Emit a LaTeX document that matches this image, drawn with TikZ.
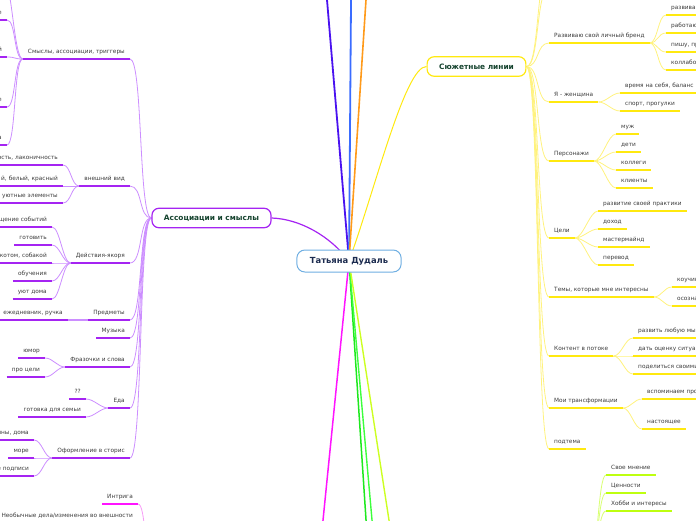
\documentclass[tikz,border=0pt]{standalone}
\usepackage{fontspec}
\setmainfont{DejaVu Sans}
\usetikzlibrary{backgrounds}
\definecolor{purp}{HTML}{A524F2}
\definecolor{purpl}{HTML}{CC8EFF}
\definecolor{yel}{HTML}{FFE90F}
\definecolor{yell}{HTML}{FFF27E}
\definecolor{ygr}{HTML}{BEFF10}
\definecolor{ygrl}{HTML}{D8FF72}
\definecolor{mag}{HTML}{FF14FF}
\definecolor{magl}{HTML}{F79AF7}
\definecolor{txt}{HTML}{3C3C3C}
\definecolor{dgreen}{HTML}{15432E}
\definecolor{navy}{HTML}{1C2B4F}
\definecolor{cblue}{HTML}{6EAEE2}
\definecolor{vio}{HTML}{4A12F0}
\definecolor{blu}{HTML}{3A6CFF}
\definecolor{ora}{HTML}{FF9A1A}
\definecolor{grn}{HTML}{1EE81E}
\definecolor{grn2}{HTML}{3CFF3C}
\definecolor{ygm}{HTML}{CCFF22}
\begin{document}
\begin{tikzpicture}[x=1pt,y=-1pt,
  every node/.style={font=\fontsize{5.8}{7}\selectfont, text=txt},
  tp/.style={inner xsep=5pt, inner ysep=3.8pt, text height=4.4pt, text depth=1.3pt},
  tpr/.style={tp, text width=70pt, align=right},
  tpl/.style={tp, text width=70pt, align=left},
  big/.style={draw, rounded corners=7pt, fill=white, line width=1.2pt, inner xsep=12pt, minimum height=19.5pt, font=\fontsize{7.4}{9}\selectfont\bfseries, text=dgreen},
  rootbox/.style={draw=cblue, rounded corners=8pt, fill=white, line width=1pt, inner xsep=13pt, minimum height=22pt, font=\fontsize{8.4}{10}\selectfont\bfseries, text=navy},
  ulp/.style={purp, line width=1.5pt},
  uly/.style={yel, line width=1.5pt},
  ulg/.style={ygr, line width=1.5pt},
  ulm/.style={mag, line width=1.5pt},
  cl/.style={purpl, line width=0.8pt, out=180, in=0, out distance=#1, in distance=#1},
  cr/.style={yell, line width=0.8pt, out=0, in=180, out distance=#1, in distance=#1},
  cg/.style={ygrl, line width=0.8pt, out=0, in=180, out distance=#1, in distance=#1},
  cm/.style={magl, line width=0.8pt, out=180, in=0, out distance=#1, in distance=#1}
]
\useasboundingbox (0,0) rectangle (696,520);
\clip (0,0) rectangle (696,520);

% main nodes
\node[rootbox] (root) at (349,261) {Татьяна Дудаль};
\node[big, draw=purp] (assoc) at (211.5,218) {Ассоциации и смыслы};
\node[big, draw=yel] (sj) at (476.5,66.5) {Сюжетные линии};

% off-page ends
\coordinate (vtop) at (318.6,-100);
\coordinate (btop) at (351.8,-100);
\coordinate (otop) at (372.5,-100);
\coordinate (mbot) at (313,620);
\coordinate (g1bot) at (372.6,620);
\coordinate (g2bot) at (380.9,620);
\coordinate (ybot) at (404.4,620);
\coordinate (smyup) at (3,-22);
\coordinate (sjup1) at (549,-12);
\coordinate (sjup2) at (549,-30);
\coordinate (magpar) at (152,560);
\coordinate (ygpar) at (590,560);

% left level 1
\node[tp, anchor=south east] (smy) at (130,59) {Смыслы, ассоциации, триггеры};
\node[tp, anchor=south east] (vid) at (130,186) {внешний вид};
\node[tp, anchor=south east] (dey) at (130,263) {Действия-якоря};
\node[tp, anchor=south east] (pre) at (130,320) {Предметы};
\node[tp, anchor=south east] (muz) at (130,338) {Музыка};
\node[tp, anchor=south east] (fra) at (130,367) {Фразочки и слова};
\node[tp, anchor=south east] (eda) at (130,408) {Еда};
\node[tp, anchor=south east] (ofo) at (130,458) {Оформление в сторис};

% left level 2
\node[tpr, anchor=south east] (s1) at (7,20) {е};
\node[tpr, anchor=south east] (s2) at (7,57) {й};
\node[tpr, anchor=south east] (s3) at (7,107) {е};
\node[tpr, anchor=south east] (s4) at (7,145) {а};
\node[tpr, anchor=south east] (v1) at (63,165) {ость, лаконичность};
\node[tpr, anchor=south east] (v2) at (63,186) {й, белый, красный};
\node[tpr, anchor=south east] (v3) at (63,203) {, уютные элементы};
\node[tpr, anchor=south east] (d1) at (52,227) {щение событий};
\node[tp, anchor=south east] (d2) at (52,245) {готовить};
\node[tpr, anchor=south east] (d3) at (52,263) {с котом, собакой};
\node[tp, anchor=south east] (d4) at (52,281) {обучения};
\node[tp, anchor=south east] (d5) at (52,299) {уют дома};
\node[tp, anchor=south east] (p1) at (68,320) {ежедневник, ручка};
\node[tp, anchor=south east] (f1) at (45,358) {юмор};
\node[tp, anchor=south east] (f2) at (45,377) {про цели};
\node[tp, anchor=south east] (e1) at (86,399) {??};
\node[tp, anchor=south east] (e2) at (86,417) {готовка для семьи};
\node[tpr, anchor=south east] (o1) at (34,440) {ины, дома};
\node[tp, anchor=south east] (o2) at (34,458) {море};
\node[tpr, anchor=south east] (o3) at (34,476) {е подписи};

% magenta
\node[tp, anchor=south east] (m1) at (138,504) {Интрига};
\node[tp, anchor=south east] (m2) at (138,523) {Необычные дела/изменения во внешности};

% right level 1
\node[tp, anchor=south west] (r1) at (549,43) {Развиваю свой личный бренд};
\node[tp, anchor=south west] (r2) at (549,102) {Я - женщина};
\node[tp, anchor=south west] (r3) at (549,161) {Персонажи};
\node[tp, anchor=south west] (r4) at (549,238) {Цели};
\node[tp, anchor=south west] (r5) at (549,297) {Темы, которые мне интересны};
\node[tp, anchor=south west] (r6) at (549,356) {Контент в потоке};
\node[tp, anchor=south west] (r7) at (549,408) {Мои трансформации};
\node[tp, anchor=south west] (r8) at (549,449) {подтема};

% right level 2
\node[tpl, anchor=south west] (r11) at (666,15) {развива};
\node[tpl, anchor=south west] (r12) at (666,33) {работаю};
\node[tpl, anchor=south west] (r13) at (666,52) {пишу, пр};
\node[tpl, anchor=south west] (r14) at (666,70) {коллабо};
\node[tp, anchor=south west] (r21) at (620,93) {время на себя, баланс};
\node[tp, anchor=south west] (r22) at (620,111) {спорт, прогулки};
\node[tp, anchor=south west] (r31) at (616,134) {муж};
\node[tp, anchor=south west] (r32) at (616,152) {дети};
\node[tp, anchor=south west] (r33) at (616,170) {коллеги};
\node[tp, anchor=south west] (r34) at (616,188) {клиенты};
\node[tp, anchor=south west] (r41) at (598,211) {развитие своей практики};
\node[tp, anchor=south west] (r42) at (598,229) {доход};
\node[tp, anchor=south west] (r43) at (598,247) {мастермайнд};
\node[tp, anchor=south west] (r44) at (598,265) {перевод};
\node[tpl, anchor=south west] (r51) at (672,287) {коучин};
\node[tpl, anchor=south west] (r52) at (672,306) {осознан};
\node[tpl, anchor=south west] (r61) at (633,338) {развить любую мысл};
\node[tpl, anchor=south west] (r62) at (633,356) {дать оценку ситуац};
\node[tpl, anchor=south west] (r63) at (633,374) {поделиться своими з};
\node[tpl, anchor=south west] (r71) at (642,399) {вспоминаем прош};
\node[tp, anchor=south west] (r72) at (642,429) {настоящее};

% yellow-green
\node[tp, anchor=south west] (g1) at (606,475) {Свое мнение};
\node[tp, anchor=south west] (g2) at (606,493) {Ценности};
\node[tp, anchor=south west] (g3) at (606,511) {Хобби и интересы};

% underlines
\foreach \n in {smy,vid,dey,pre,muz,fra,eda,ofo,s1,s2,s3,s4,v1,v2,v3,d1,d2,d3,d4,d5,p1,f1,f2,e1,e2,o1,o2,o3}
  \draw[ulp] (\n.south west) -- (\n.south east);
\foreach \n in {r1,r2,r3,r4,r5,r6,r7,r8,r11,r12,r13,r14,r21,r22,r31,r32,r33,r34,r41,r42,r43,r44,r51,r52,r61,r62,r63,r71,r72}
  \draw[uly] (\n.south west) -- (\n.south east);
\foreach \n in {g1,g2,g3}
  \draw[ulg] (\n.south west) -- (\n.south east);
\foreach \n in {m1,m2}
  \draw[ulm] (\n.south west) -- (\n.south east);

\begin{scope}[on background layer]
  % root branches
  \draw[vio, line width=1.8pt] (root.center) -- (vtop);
  \draw[blu, line width=1.8pt] (root.center) -- (btop);
  \draw[ora, line width=1.6pt] (root.center) -- (otop);
  \draw[mag, line width=1.5pt] (root.center) -- (mbot);
  \draw[grn, line width=1.5pt] (root.center) -- (g1bot);
  \draw[grn2, line width=1.4pt] (root.center) -- (g2bot);
  \draw[ygm, line width=1.4pt] (root.center) -- (ybot);
  \draw[purp, line width=1.2pt] (root.center) .. controls (330,236) and (300,219) .. (assoc.east);
  \draw[yel, line width=1pt] (root.center) .. controls (375,190) and (405,66) .. (sj.west);
  % associations
  \foreach \n in {smy,vid,dey,pre,muz,fra,eda,ofo}
    \draw[cl=13pt] (assoc.west) to (\n.south east);
  \foreach \n in {s1,s2,s3,s4}
    \draw[cl=9pt] (smy.south west) to (\n.south east);
  \draw[cl=9pt] (smy.south west) to (smyup);
  \foreach \n in {v1,v2,v3}
    \draw[cl=8pt] (vid.south west) to (\n.south east);
  \foreach \n in {d1,d2,d3,d4,d5}
    \draw[cl=8pt] (dey.south west) to (\n.south east);
  \draw[purpl, line width=1.5pt] (pre.south west) -- (p1.south east);
  \foreach \n in {f1,f2}
    \draw[cl=8pt] (fra.south west) to (\n.south east);
  \foreach \n in {e1,e2}
    \draw[cl=8pt] (eda.south west) to (\n.south east);
  \foreach \n in {o1,o2,o3}
    \draw[cl=8pt] (ofo.south west) to (\n.south east);
  \foreach \n in {m1,m2}
    \draw[cm=8pt] (magpar) to (\n.south east);
  % story lines
  \foreach \n in {r1,r2,r3,r4,r5,r6,r7,r8}
    \draw[cr=13pt] (sj.east) to (\n.south west);
  \draw[cr=13pt] (sj.east) to (sjup1);
  \draw[cr=13pt] (sj.east) to (sjup2);
  \foreach \n in {r11,r12,r13,r14}
    \draw[cr=8pt] (r1.south east) to (\n.south west);
  \foreach \n in {r21,r22}
    \draw[cr=8pt] (r2.south east) to (\n.south west);
  \foreach \n in {r31,r32,r33,r34}
    \draw[cr=8pt] (r3.south east) to (\n.south west);
  \foreach \n in {r41,r42,r43,r44}
    \draw[cr=8pt] (r4.south east) to (\n.south west);
  \foreach \n in {r51,r52}
    \draw[cr=8pt] (r5.south east) to (\n.south west);
  \foreach \n in {r61,r62,r63}
    \draw[cr=8pt] (r6.south east) to (\n.south west);
  \foreach \n in {r71,r72}
    \draw[cr=8pt] (r7.south east) to (\n.south west);
  \foreach \n in {g1,g2,g3}
    \draw[cg=8pt] (ygpar) to (\n.south west);
\end{scope}
\end{tikzpicture}
\end{document}
